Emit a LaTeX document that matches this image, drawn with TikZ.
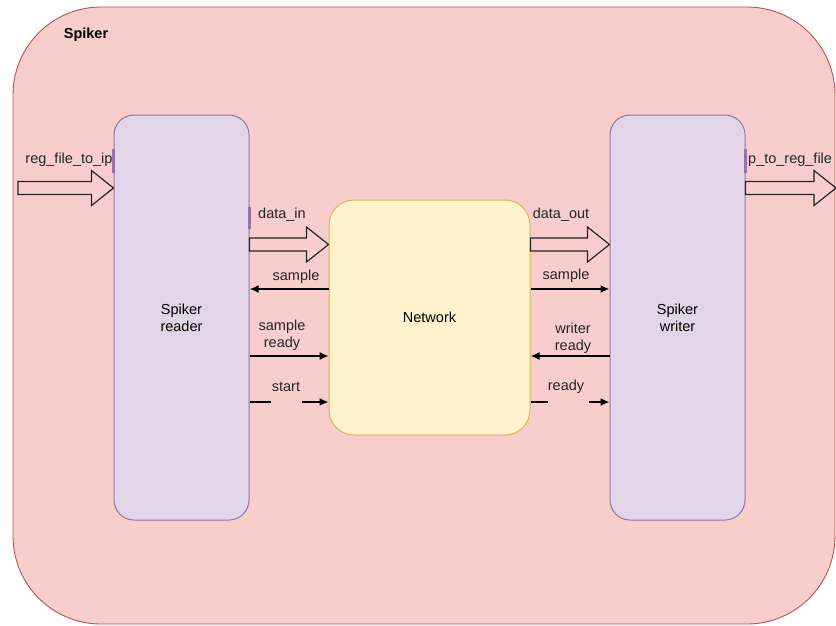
\documentclass[tikz,border=0pt]{standalone}
\usepackage{fontspec}
\setmainfont{Liberation Sans}
\usetikzlibrary{arrows.meta,calc}

\definecolor{spikerfill}{HTML}{F8CECC}
\definecolor{spikerline}{HTML}{B85450}
\definecolor{blockfill}{HTML}{E1D5E7}
\definecolor{blockline}{HTML}{9673A6}
\definecolor{netfill}{HTML}{FFF2CC}
\definecolor{netline}{HTML}{D6B656}

\tikzset{
  container/.style={draw=spikerline, fill=spikerfill, line width=0.9pt, rounded corners=88pt},
  block/.style={draw=blockline, fill=blockfill, line width=1pt, rounded corners=20pt,
    align=center, font=\fontsize{14.5}{17}\selectfont},
  netbox/.style={draw=netline, fill=netfill, line width=1pt, rounded corners=25pt,
    font=\fontsize{14.5}{17}\selectfont},
  lbl/.style={font=\fontsize{14.5}{17}\selectfont, align=center, inner sep=0pt, text=black!85},
  hollow/.style={draw=black!85, line width=1.2pt, line join=miter},
  port/.style={draw=blockline, line width=3pt},
  sig/.style={draw=black, line width=1.5pt, -{Latex[length=9pt,width=8pt]}},
  thicksig/.style={draw=black, line width=2.4pt, -{Latex[length=9pt,width=8pt]}},
}

% open bus arrow from #1 to the tip #2 (horizontal)
\newcommand\busarrow[2]{%
  \draw[hollow] let \p1=(#1), \p2=(#2) in
    (\x1,\y1+6.5pt) -- (\x2-22pt,\y1+6.5pt) -- (\x2-22pt,\y1+17.5pt) -- (\x2,\y1)
    -- (\x2-22pt,\y1-17.5pt) -- (\x2-22pt,\y1-6.5pt) -- (\x1,\y1-6.5pt) -- cycle;}

\begin{document}
\begin{tikzpicture}[x=1pt,y=-1pt]
\useasboundingbox (0,0) rectangle (836,625);

% enclosing block
\node[container, minimum width=822pt, minimum height=617pt] (spiker) at (424,315.5) {};
\node[font=\fontsize{14.5}{17}\selectfont\bfseries, inner sep=0pt] (title) at (86,35) {Spiker};

% components
\node[block, minimum width=135pt, minimum height=405pt] (reader) at (181.5,317.5) {Spiker\\reader};
\node[block, minimum width=135pt, minimum height=405pt] (writer) at (677.5,317.5) {Spiker\\writer};
\node[netbox, minimum width=201pt, minimum height=235pt] (net) at (429.5,317.5) {Network};

% port markers
\draw[port] (reader.west |- 0,149) -- (reader.west |- 0,173);
\draw[port] (reader.east |- 0,207) -- (reader.east |- 0,229);
\draw[port] (writer.east |- 0,149) -- (writer.east |- 0,173);

% bus connections
\coordinate (busin) at (18,188);
\coordinate (busout) at (836,188);
\busarrow{busin}{reader.west |- busin}
\busarrow{writer.east |- busout}{busout}
\coordinate (din) at (0,244.5);
\busarrow{reader.east |- din}{net.west |- din}
\busarrow{net.east |- din}{writer.west |- din}

% reader <-> network signals
\draw[thicksig] (net.west |- 0,289) -- (reader.east |- 0,289);
\draw[sig] (reader.east |- 0,356) -- (net.west |- 0,356);
\draw[sig, dash pattern=on 21pt off 31pt] (reader.east |- 0,402) -- (net.west |- 0,402);

% network <-> writer signals
\draw[sig, line width=2pt] (net.east |- 0,289) -- (writer.west |- 0,289);
\draw[thicksig] (writer.west |- 0,356) -- (net.east |- 0,356);
\draw[sig, dash pattern=on 17pt off 41pt] (net.east |- 0,402) -- (writer.west |- 0,402);

% labels
\node[lbl] (lin) at (69,160) {reg\_file\_to\_ip};
\node[lbl, anchor=west] (lout) at (748,160) {p\_to\_reg\_file};
\node[lbl] (ldin) at (282,215) {data\_in};
\node[lbl] (ldout) at (561,215) {data\_out};
\node[lbl] (lsl) at (296,277) {sample};
\node[lbl] (lsr) at (282,335.5) {sample\\ready};
\node[lbl] (lst) at (286,387) {start};
\node[lbl] (lsw) at (566,276) {sample};
\node[lbl] (lwr) at (573,338.5) {writer\\ready};
\node[lbl] (lrd) at (566,387) {ready};
\end{tikzpicture}
\end{document}
